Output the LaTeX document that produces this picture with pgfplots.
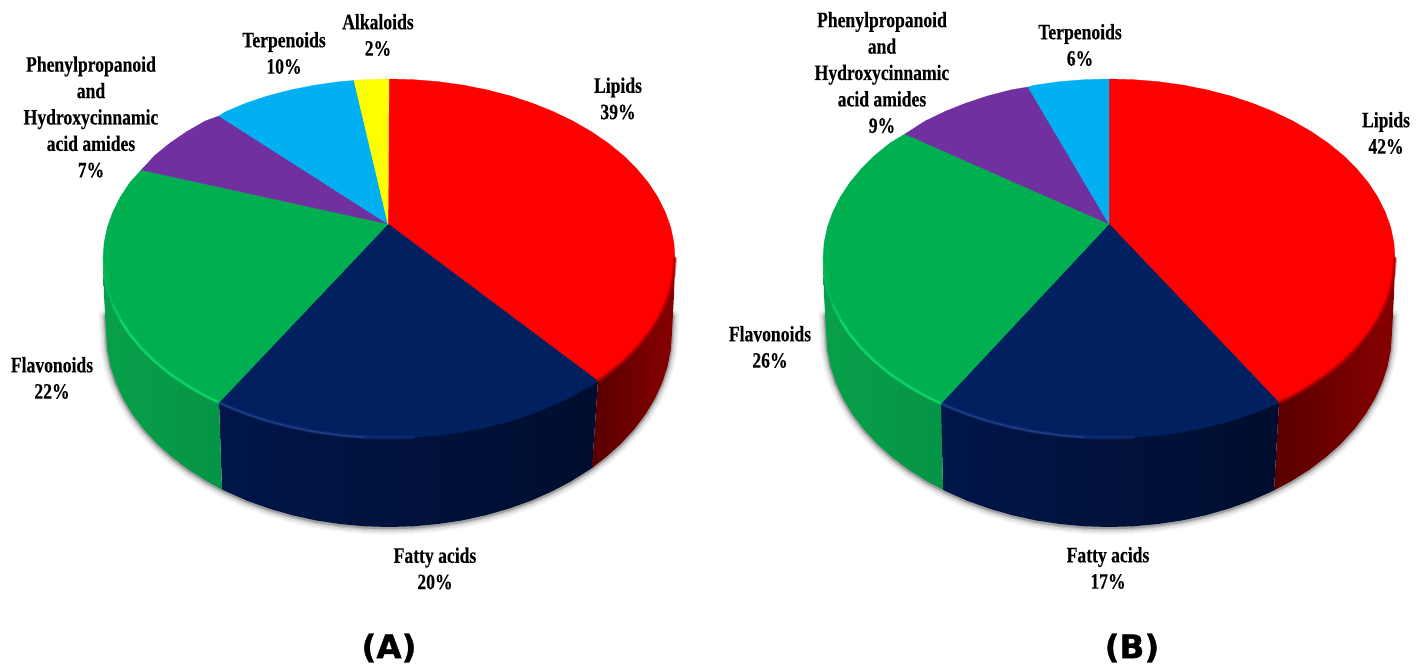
\documentclass[border=0pt]{standalone}
\usepackage{fontspec}
\usepackage{pgfplots}
\usepackage{pgfplotstable}
\pgfplotsset{compat=1.18}
\newfontfamily\lab{Liberation Serif}[FakeStretch=0.8, BoldFeatures={FakeBold=0.25}]
\newfontfamily\panel{DejaVu Sans}[BoldFeatures={FakeBold=1}]
\definecolor{cRed}{HTML}{FF0000}
\definecolor{cNavy}{HTML}{002060}
\definecolor{cGreen}{HTML}{00B050}
\definecolor{cPurple}{HTML}{7030A0}
\definecolor{cBlue}{HTML}{00B0F0}
\definecolor{cYellow}{HTML}{FFFF00}
\definecolor{sGreenA}{HTML}{08A04A}
\definecolor{sGreenB}{HTML}{048C3E}
\definecolor{sGreenC}{HTML}{059446}
\definecolor{sNavyA}{HTML}{00164A}
\definecolor{sNavyB}{HTML}{000A2C}
\definecolor{sNavyC}{HTML}{000D2E}
\definecolor{sRedA}{HTML}{580000}
\definecolor{sRedB}{HTML}{640000}
\definecolor{sRedC}{HTML}{880000}
\definecolor{rimGreen}{HTML}{14E070}
\definecolor{rimNavy}{HTML}{2E52A0}
\definecolor{rimRed}{HTML}{A00000}
\tikzset{
  shadowline/.style={draw=black, line join=round, line cap=round},
  topface/.style={draw=#1, fill=#1, line width=0.3pt},
  labeltext/.style={align=center, text=black, inner sep=0pt,
    font=\lab\bfseries\fontsize{22}{26.4}\selectfont},
  paneltext/.style={inner sep=0pt, text=black,
    font=\panel\bfseries\fontsize{32.5}{36}\selectfont},
}

% Silhouette of the base of the left disc, used for its soft shadow
\pgfplotstableread{
x y
673 315
672 332
670.9 349
667.7 365.9
662.3 382.5
654.9 398.7
645.5 414.4
634.1 429.5
620.8 443.9
605.8 457.3
589.1 469.9
570.9 481.4
551.3 491.7
530.5 500.9
508.6 508.7
485.8 515.2
462.2 520.4
438.1 524
413.7 526.3
389 527
364.3 526.3
339.9 524
315.8 520.4
292.2 515.2
269.4 508.7
247.5 500.9
226.7 491.7
207.1 481.4
188.9 469.9
172.2 457.3
157.2 443.9
143.9 429.5
132.5 414.4
123.1 398.7
115.7 382.5
110.3 365.9
107.1 349
106 332
105 315
}\baseA

% Same silhouette for the right disc
\pgfplotstableread{
x y
1393 315
1392 332
1390.9 349
1387.7 365.9
1382.3 382.5
1374.9 398.7
1365.5 414.4
1354.1 429.5
1340.8 443.9
1325.8 457.3
1309.1 469.9
1290.9 481.4
1271.3 491.7
1250.5 500.9
1228.6 508.7
1205.8 515.2
1182.2 520.4
1158.1 524
1133.7 526.3
1109 527
1084.3 526.3
1059.9 524
1035.8 520.4
1012.2 515.2
989.4 508.7
967.5 500.9
946.7 491.7
927.1 481.4
908.9 469.9
892.2 457.3
877.2 443.9
863.9 429.5
852.5 414.4
843.1 398.7
835.7 382.5
830.3 365.9
827.1 349
826 332
825 315
}\baseB

\begin{document}
\begin{tikzpicture}
\useasboundingbox (0,0) rectangle (1428pt,666pt);
\begin{axis}[
  at={(0,0)}, anchor=south west,
  width=1428pt, height=666pt, scale only axis,
  xmin=0, xmax=1428, ymin=0, ymax=666, y dir=reverse,
  hide axis, no markers,
  every axis plot/.append style={line cap=round},
]

% ---------- left disc: shadow ----------
\addplot[shadowline, line width=13pt, opacity=0.05] table[x=x, y expr=\thisrow{y}+1] {\baseA};
\addplot[shadowline, line width=9pt, opacity=0.08] table[x=x, y expr=\thisrow{y}+1] {\baseA};
\addplot[shadowline, line width=5pt, opacity=0.12] table[x=x, y expr=\thisrow{y}+1] {\baseA};
\addplot[shadowline, line width=2.5pt, opacity=0.18] table[x=x, y expr=\thisrow{y}+1] {\baseA};

% ---------- left disc: rim ----------
\addplot[draw=none, left color=sRedA, middle color=sRedB, right color=sRedC] coordinates {
 (598,381) (675,258.5) (674,295) (672,332) (670.9,349) (667.7,365.9) (662.3,382.5) (654.9,398.7)
 (645.5,414.4) (634.1,429.5) (620.8,443.9) (605.8,457.3) (592,468)
} -- cycle;
\addplot[draw=none, left color=sNavyA, middle color=sNavyB, right color=sNavyC] coordinates {
 (598,381) (592,468) (589.1,469.9) (570.9,481.4) (551.3,491.7) (530.5,500.9) (508.6,508.7)
 (485.8,515.2) (462.2,520.4) (438.1,524) (413.7,526.3) (389,527) (364.3,526.3) (339.9,524)
 (315.8,520.4) (292.2,515.2) (269.4,508.7) (247.5,500.9) (226.7,491.7) (222,489.5) (219,402.5)
} -- cycle;
\addplot[draw=none, left color=sGreenA, middle color=sGreenB, right color=sGreenC] coordinates {
 (219,402.5) (222,489.5) (207.1,481.4) (188.9,469.9) (172.2,457.3) (157.2,443.9) (143.9,429.5)
 (132.5,414.4) (123.1,398.7) (115.7,382.5) (110.3,365.9) (107.1,349) (106,332) (104,295) (103,258.5)
} -- cycle;

% ---------- left disc: top face ----------
\addplot[topface=cRed] coordinates {
 (388,224) (389,79) (413.9,79.7) (438.7,81.7) (463,85.1) (486.8,89.8) (509.9,95.8) (532,103.1)
 (553,111.5) (572.8,121) (591.2,131.6) (608.1,143.1) (623.3,155.5) (636.7,168.8) (648.2,182.6)
 (657.7,197.1) (665.2,212) (670.7,227.3) (673.9,242.8) (675,258.5) (673.9,274.2) (670.7,289.7)
 (665.2,305) (657.7,319.9) (648.2,334.4) (636.7,348.3) (623.3,361.5) (608.1,373.9) (598,381)
} -- cycle;
\addplot[topface=cNavy] coordinates {
 (388,224) (598,381) (591.2,385.4) (572.8,396) (553,405.5) (532,413.9) (509.9,421.2) (486.8,427.2)
 (463,431.9) (438.7,435.3) (413.9,437.3) (389,438) (364.1,437.3) (339.3,435.3) (315,431.9)
 (291.2,427.2) (268.1,421.2) (246,413.9) (225,405.5) (219,402.5)
} -- cycle;
\addplot[topface=cGreen] coordinates {
 (388,224) (219,402.5) (205.2,396) (186.8,385.4) (169.9,373.9) (154.7,361.5) (141.3,348.3)
 (129.8,334.4) (120.3,319.9) (112.8,305) (107.3,289.7) (104.1,274.2) (103,258.5) (104.1,242.8)
 (107.3,227.3) (112.8,212) (120.3,197.1) (129.8,182.6) (141.3,170)
} -- cycle;
\addplot[topface=cPurple] coordinates {
 (388,224) (141.3,170) (154.7,155.5) (169.9,143.1) (186.8,131.6) (205.2,121) (219,116)
} -- cycle;
\addplot[topface=cBlue] coordinates {
 (388,224) (219,116) (225,112) (246,103.1) (268.1,95.8) (291.2,89.8) (315,85.1) (339.3,81.7) (354,80.5)
} -- cycle;
\addplot[topface=cYellow] coordinates {
 (388,224) (354,80.5) (364.1,79.7) (389,79)
} -- cycle;

% ---------- left disc: bevel highlights ----------
\addplot[rimGreen, line width=1.5pt, opacity=0.35] coordinates {
 (103,258.5) (104.1,274.2) (107.3,289.7) (112.8,305) (120.3,319.9) (129.8,334.4)
};
\addplot[rimGreen, line width=3.5pt, opacity=0.3] coordinates {
 (112.8,305) (120.3,319.9) (129.8,334.4) (141.3,348.3) (154.7,361.5) (169.9,373.9) (186.8,385.4) (205.2,396) (219,402.5)
};
\addplot[rimGreen, line width=1.8pt, opacity=0.7] coordinates {
 (120.3,319.9) (129.8,334.4) (141.3,348.3) (154.7,361.5) (169.9,373.9) (186.8,385.4) (205.2,396) (219,402.5)
};
\addplot[rimNavy, line width=3.5pt, opacity=0.25] coordinates {
 (219,402.5) (225,405.5) (246,413.9) (268.1,421.2) (291.2,427.2) (315,431.9) (339.3,435.3) (364.1,437.3) (389,438) (413.9,437.3)
};
\addplot[rimNavy, line width=1.5pt, opacity=0.5] coordinates {
 (219,402.5) (225,405.5) (246,413.9) (268.1,421.2) (291.2,427.2) (315,431.9) (339.3,435.3) (364.1,437.3)
};
\addplot[rimRed, line width=4pt, opacity=0.35] coordinates {
 (598,381) (608.1,373.9) (623.3,361.5) (636.7,348.3) (648.2,334.4) (657.7,319.9) (665.2,305) (670.7,289.7) (673.9,274.2) (675,258.5)
};
\addplot[rimRed, line width=2pt, opacity=0.7] coordinates {
 (598,381) (608.1,373.9) (623.3,361.5) (636.7,348.3) (648.2,334.4) (657.7,319.9) (665.2,305) (670.7,289.7) (673.9,274.2) (675,258.5)
};

% ---------- right disc: shadow ----------
\addplot[shadowline, line width=13pt, opacity=0.05] table[x=x, y expr=\thisrow{y}+1] {\baseB};
\addplot[shadowline, line width=9pt, opacity=0.08] table[x=x, y expr=\thisrow{y}+1] {\baseB};
\addplot[shadowline, line width=5pt, opacity=0.12] table[x=x, y expr=\thisrow{y}+1] {\baseB};
\addplot[shadowline, line width=2.5pt, opacity=0.18] table[x=x, y expr=\thisrow{y}+1] {\baseB};

% ---------- right disc: rim ----------
\addplot[draw=none, left color=sRedA, middle color=sRedB, right color=sRedC] coordinates {
 (1279,402.6) (1395,258.5) (1394,295) (1392,332) (1390.9,349) (1387.7,365.9) (1382.3,382.5)
 (1374.9,398.7) (1365.5,414.4) (1354.1,429.5) (1340.8,443.9) (1325.8,457.3) (1309.1,469.9)
 (1290.9,481.4) (1274,490.3)
} -- cycle;
\addplot[draw=none, left color=sNavyA, middle color=sNavyB, right color=sNavyC] coordinates {
 (1279,402.6) (1274,490.3) (1271.3,491.7) (1250.5,500.9) (1228.6,508.7) (1205.8,515.2) (1182.2,520.4)
 (1158.1,524) (1133.7,526.3) (1109,527) (1084.3,526.3) (1059.9,524) (1035.8,520.4) (1012.2,515.2)
 (989.4,508.7) (967.5,500.9) (946.7,491.7) (943,489.7) (941,403.6)
} -- cycle;
\addplot[draw=none, left color=sGreenA, middle color=sGreenB, right color=sGreenC] coordinates {
 (941,403.6) (943,489.7) (927.1,481.4) (908.9,469.9) (892.2,457.3) (877.2,443.9) (863.9,429.5)
 (852.5,414.4) (843.1,398.7) (835.7,382.5) (830.3,365.9) (827.1,349) (826,332) (824,295) (823,258.5)
} -- cycle;

% ---------- right disc: top face ----------
\addplot[topface=cRed] coordinates {
 (1109,224) (1109,79) (1133.9,79.7) (1158.7,81.7) (1183,85.1) (1206.8,89.8) (1229.9,95.8) (1252,103.1)
 (1273,111.5) (1292.8,121) (1311.2,131.6) (1328.1,143.1) (1343.3,155.5) (1356.7,168.8) (1368.2,182.6)
 (1377.7,197.1) (1385.2,212) (1390.7,227.3) (1393.9,242.8) (1395,258.5) (1393.9,274.2) (1390.7,289.7)
 (1385.2,305) (1377.7,319.9) (1368.2,334.4) (1356.7,348.3) (1343.3,361.5) (1328.1,373.9) (1311.2,385.4)
 (1292.8,396) (1279,402.6)
} -- cycle;
\addplot[topface=cNavy] coordinates {
 (1109,224) (1279,402.6) (1273,405.5) (1252,413.9) (1229.9,421.2) (1206.8,427.2) (1183,431.9)
 (1158.7,435.3) (1133.9,437.3) (1109,438) (1084.1,437.3) (1059.3,435.3) (1035,431.9) (1011.2,427.2)
 (988.1,421.2) (966,413.9) (945,405.5) (941,403.6)
} -- cycle;
\addplot[topface=cGreen] coordinates {
 (1109,224) (941,403.6) (925.2,396) (906.8,385.4) (889.9,373.9) (874.7,361.5) (861.3,348.3) (849.8,334.4)
 (840.3,319.9) (832.8,305) (827.3,289.7) (824.1,274.2) (823,258.5) (824.1,242.8) (827.3,227.3)
 (832.8,212) (840.3,197.1) (849.8,182.6) (861.3,168.8) (874.7,155.5) (889.9,143.1) (905,134)
} -- cycle;
\addplot[topface=cPurple] coordinates {
 (1109,224) (905,134) (925.2,121) (945,111.5) (966,103.1) (988.1,95.8) (1011.2,89.8) (1028,87)
} -- cycle;
\addplot[topface=cBlue] coordinates {
 (1109,224) (1028,87) (1035,85.1) (1059.3,81.7) (1084.1,79.7) (1109,79)
} -- cycle;

% ---------- right disc: bevel highlights ----------
\addplot[rimGreen, line width=1.5pt, opacity=0.35] coordinates {
 (823,258.5) (824.1,274.2) (827.3,289.7) (832.8,305) (840.3,319.9) (849.8,334.4)
};
\addplot[rimGreen, line width=3.5pt, opacity=0.3] coordinates {
 (832.8,305) (840.3,319.9) (849.8,334.4) (861.3,348.3) (874.7,361.5) (889.9,373.9) (906.8,385.4) (925.2,396) (941,403.6)
};
\addplot[rimGreen, line width=1.8pt, opacity=0.7] coordinates {
 (840.3,319.9) (849.8,334.4) (861.3,348.3) (874.7,361.5) (889.9,373.9) (906.8,385.4) (925.2,396) (941,403.6)
};
\addplot[rimNavy, line width=3.5pt, opacity=0.25] coordinates {
 (941,403.6) (945,405.5) (966,413.9) (988.1,421.2) (1011.2,427.2) (1035,431.9) (1059.3,435.3) (1084.1,437.3) (1109,438) (1133.9,437.3)
};
\addplot[rimNavy, line width=1.5pt, opacity=0.5] coordinates {
 (941,403.6) (945,405.5) (966,413.9) (988.1,421.2) (1011.2,427.2) (1035,431.9) (1059.3,435.3) (1084.1,437.3)
};
\addplot[rimRed, line width=4pt, opacity=0.35] coordinates {
 (1279,402.6) (1292.8,396) (1311.2,385.4) (1328.1,373.9) (1343.3,361.5) (1356.7,348.3) (1368.2,334.4) (1377.7,319.9) (1385.2,305) (1390.7,289.7) (1393.9,274.2) (1395,258.5)
};
\addplot[rimRed, line width=2pt, opacity=0.7] coordinates {
 (1279,402.6) (1292.8,396) (1311.2,385.4) (1328.1,373.9) (1343.3,361.5) (1356.7,348.3) (1368.2,334.4) (1377.7,319.9) (1385.2,305) (1390.7,289.7) (1393.9,274.2) (1395,258.5)
};

% ---------- labels, left disc ----------
\node[labeltext] at (axis cs:618,98.5) {Lipids\\39\%};
\node[labeltext] at (axis cs:378,35) {Alkaloids\\2\%};
\node[labeltext] at (axis cs:284,53) {Terpenoids\\10\%};
\node[labeltext] at (axis cs:91,117) {Phenylpropanoid\\and\\Hydroxycinnamic\\acid amides\\7\%};
\node[labeltext] at (axis cs:52,378) {Flavonoids\\22\%};
\node[labeltext] at (axis cs:435,568.5) {Fatty acids\\20\%};

% ---------- labels, right disc ----------
\node[labeltext] at (axis cs:1386,133) {Lipids\\42\%};
\node[labeltext] at (axis cs:1080,45) {Terpenoids\\6\%};
\node[labeltext] at (axis cs:882,72.5) {Phenylpropanoid\\and\\Hydroxycinnamic\\acid amides\\9\%};
\node[labeltext] at (axis cs:770,347) {Flavonoids\\26\%};
\node[labeltext] at (axis cs:1108,568) {Fatty acids\\17\%};

% ---------- panel letters ----------
\node[paneltext] at (axis cs:389,648) {(A)};
\node[paneltext] at (axis cs:1132,648) {(B)};

\end{axis}
\end{tikzpicture}
\end{document}
